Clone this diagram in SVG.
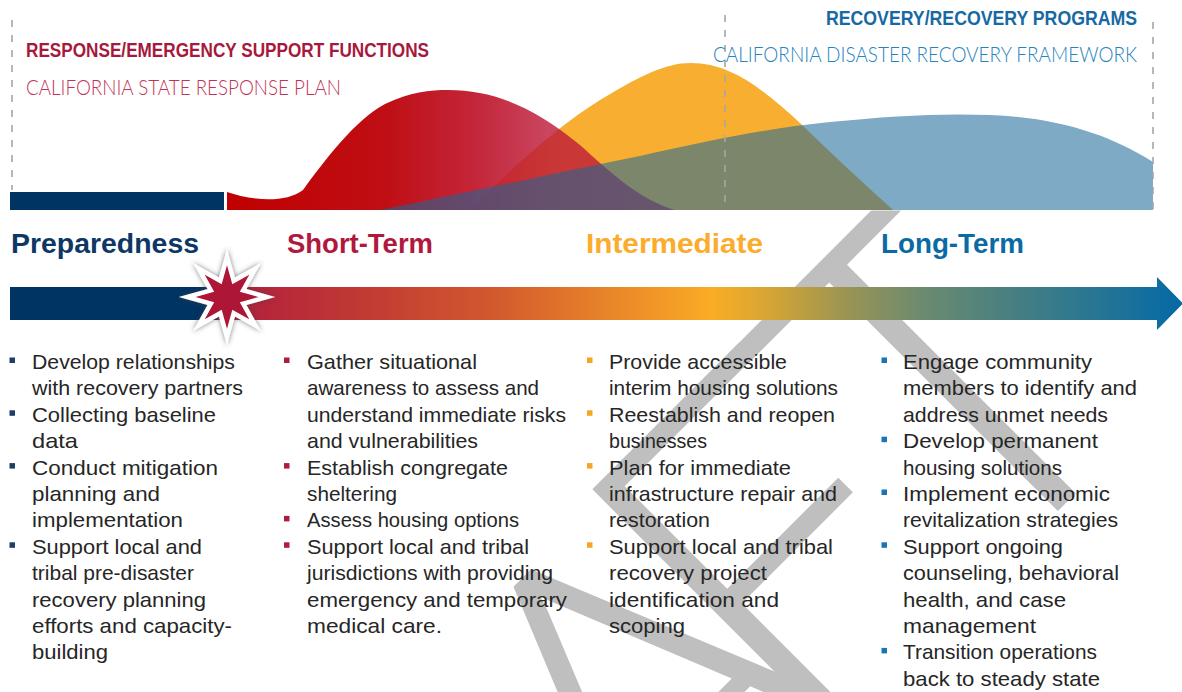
<svg xmlns="http://www.w3.org/2000/svg" width="1182" height="692" viewBox="0 0 1182 692">
<style>
.wm{font-family:Lato,"Open Sans","Noto Sans",sans-serif;font-weight:300;font-size:487px;fill:#bfbfbf}
.hb{font-family:"Liberation Sans",Arial,sans-serif;font-weight:bold;font-size:21px}
.hl{font-family:Lato,"Liberation Sans",sans-serif;font-weight:300;font-size:21px}
.stage{font-family:"Liberation Sans",Arial,sans-serif;font-weight:bold;font-size:28px}
.bt{font-family:"Liberation Sans",Arial,sans-serif;font-size:21px;fill:#262626}
.dash{stroke:#a6a6a6;stroke-width:1.6;stroke-dasharray:7 8;fill:none}
.b1{fill:#1f3d6b}.b2{fill:#b01c40}.b3{fill:#f6a623}.b4{fill:#1b74b5}
</style>
<defs>
<linearGradient id="barG" gradientUnits="userSpaceOnUse" x1="10" y1="0" x2="1182" y2="0">
<stop offset="0" stop-color="#003462"/>
<stop offset="0.175" stop-color="#003462"/>
<stop offset="0.178" stop-color="#b01c3e"/>
<stop offset="0.31" stop-color="#c23c33"/>
<stop offset="0.41" stop-color="#d2582e"/>
<stop offset="0.487" stop-color="#e27a2a"/>
<stop offset="0.537" stop-color="#ee9028"/>
<stop offset="0.60" stop-color="#f9ad24"/>
<stop offset="0.65" stop-color="#d4a436"/>
<stop offset="0.717" stop-color="#979454"/>
<stop offset="0.78" stop-color="#6b8a70"/>
<stop offset="0.847" stop-color="#4b8080"/>
<stop offset="0.913" stop-color="#2d7890"/>
<stop offset="1" stop-color="#0569a6"/>
</linearGradient>
<linearGradient id="redG" gradientUnits="userSpaceOnUse" x1="227" y1="0" x2="675" y2="0">
<stop offset="0" stop-color="#c00000"/>
<stop offset="0.35" stop-color="#bf0e14"/>
<stop offset="0.55" stop-color="#c01a2e" stop-opacity="0.95"/>
<stop offset="0.72" stop-color="#bd1838" stop-opacity="0.8"/>
<stop offset="1" stop-color="#bd1838" stop-opacity="0.75"/>
</linearGradient>
<filter id="glow" x="-30%" y="-30%" width="160%" height="160%">
<feDropShadow dx="0" dy="0" stdDeviation="2.5" flood-color="#404040" flood-opacity="0.7"/>
</filter>
</defs>

<g id="watermark">
<text class="wm" transform="translate(829,740) rotate(-45)" x="-938 -583 -262 -41 195" y="0 0 13 0 0">DRAFT</text>
</g>

<g id="curves">
<rect x="0" y="0" width="1182" height="210.5" fill="#ffffff"/>
<path id="orange-curve" d="M470,210 C520,160 560,125 600,100 C640,76 665,63 691,63 C730,63 762,88 800,123 C830,152 862,182 893,210 Z" fill="#f8ae30"/>
<path id="red-curve" d="M227,192 C250,200 285,204 303,190 C325,160 355,120 385,104 C410,92 430,90 448,90 C495,90 535,108 580,145 C610,172 640,200 675,210 L227,210 Z" fill="url(#redG)"/>
<path id="blue-curve" d="M380,210 C480,190 560,172 640,156 C700,143 760,129 830,122 C890,116 940,113 990,115 C1060,118 1110,135 1153,162 L1153,210 Z" fill="#196799" fill-opacity="0.56"/>
<rect id="prep-bar" x="10" y="192" width="214" height="18" fill="#003462"/>
</g>

<g id="guides">
<line class="dash" x1="12" y1="20" x2="12" y2="190"/>
<line class="dash" x1="725" y1="15" x2="725" y2="208"/>
<line class="dash" x1="1153" y1="22" x2="1153" y2="210"/>
</g>

<g id="headers">
<text class="hb" x="26" y="56.5" fill="#a6193c" textLength="403" lengthAdjust="spacingAndGlyphs">RESPONSE/EMERGENCY SUPPORT FUNCTIONS</text>
<text class="hl" x="26" y="94.5" fill="#bf3358" textLength="315" lengthAdjust="spacingAndGlyphs">CALIFORNIA STATE RESPONSE PLAN</text>
<text class="hb" x="826" y="25" fill="#1669a3" textLength="311" lengthAdjust="spacingAndGlyphs">RECOVERY/RECOVERY PROGRAMS</text>
<text class="hl" x="713" y="62" fill="#2684bd" textLength="424" lengthAdjust="spacingAndGlyphs">CALIFORNIA DISASTER RECOVERY FRAMEWORK</text>
</g>

<g id="stages">
<text class="stage" x="11" y="253" fill="#0d3866" textLength="188" lengthAdjust="spacingAndGlyphs">Preparedness</text>
<text class="stage" x="287" y="253" fill="#b0183e" textLength="146" lengthAdjust="spacingAndGlyphs">Short-Term</text>
<text class="stage" x="586" y="253" fill="#fbac2c" textLength="177" lengthAdjust="spacingAndGlyphs">Intermediate</text>
<text class="stage" x="881" y="253" fill="#0b6aa5" textLength="143" lengthAdjust="spacingAndGlyphs">Long-Term</text>
</g>

<g id="timeline-arrow">
<path d="M10,287 L1157,287 L1157,277 L1183,303.5 L1157,330 L1157,320 L10,320 Z" fill="url(#barG)"/>
</g>

<g id="disaster-star">
<path filter="url(#glow)" d="M227,257 L233.70,280.83 L255.28,268.72 L243.17,290.30 L267,297 L243.17,303.70 L255.28,325.28 L233.70,313.17 L227,337 L220.30,313.17 L198.72,325.28 L210.83,303.70 L187,297 L210.83,290.30 L198.72,268.72 L220.30,280.83 Z" fill="#ae1238" stroke="#ffffff" stroke-width="4.5" stroke-linejoin="miter"/>
</g>

<g id="col-preparedness">
<rect class="b1" x="9.5" y="357.5" width="5.5" height="5.5"/>
<rect class="b1" x="9.5" y="410.3" width="5.5" height="5.5"/>
<rect class="b1" x="9.5" y="463.1" width="5.5" height="5.5"/>
<rect class="b1" x="9.5" y="542.3" width="5.5" height="5.5"/>
<text class="bt" x="32" y="369" textLength="203" lengthAdjust="spacingAndGlyphs">Develop relationships</text>
<text class="bt" x="32" y="395.4" textLength="211" lengthAdjust="spacingAndGlyphs">with recovery partners</text>
<text class="bt" x="32" y="421.8" textLength="184" lengthAdjust="spacingAndGlyphs">Collecting baseline</text>
<text class="bt" x="32" y="448.2" textLength="46" lengthAdjust="spacingAndGlyphs">data</text>
<text class="bt" x="32" y="474.6" textLength="186" lengthAdjust="spacingAndGlyphs">Conduct mitigation</text>
<text class="bt" x="32" y="501" textLength="128" lengthAdjust="spacingAndGlyphs">planning and</text>
<text class="bt" x="32" y="527.4" textLength="151" lengthAdjust="spacingAndGlyphs">implementation</text>
<text class="bt" x="32" y="553.8" textLength="170" lengthAdjust="spacingAndGlyphs">Support local and</text>
<text class="bt" x="32" y="580.2" textLength="162" lengthAdjust="spacingAndGlyphs">tribal pre-disaster</text>
<text class="bt" x="32" y="606.6" textLength="174" lengthAdjust="spacingAndGlyphs">recovery planning</text>
<text class="bt" x="32" y="633" textLength="200" lengthAdjust="spacingAndGlyphs">efforts and capacity-</text>
<text class="bt" x="32" y="659.4" textLength="76" lengthAdjust="spacingAndGlyphs">building</text>
</g>

<g id="col-short-term">
<rect class="b2" x="284" y="357.5" width="5.5" height="5.5"/>
<rect class="b2" x="284" y="463.1" width="5.5" height="5.5"/>
<rect class="b2" x="284" y="515.9" width="5.5" height="5.5"/>
<rect class="b2" x="284" y="542.3" width="5.5" height="5.5"/>
<text class="bt" x="307" y="369" textLength="170" lengthAdjust="spacingAndGlyphs">Gather situational</text>
<text class="bt" x="307" y="395.4" textLength="232" lengthAdjust="spacingAndGlyphs">awareness to assess and</text>
<text class="bt" x="307" y="421.8" textLength="259" lengthAdjust="spacingAndGlyphs">understand immediate risks</text>
<text class="bt" x="307" y="448.2" textLength="171" lengthAdjust="spacingAndGlyphs">and vulnerabilities</text>
<text class="bt" x="307" y="474.6" textLength="201" lengthAdjust="spacingAndGlyphs">Establish congregate</text>
<text class="bt" x="307" y="501" textLength="90" lengthAdjust="spacingAndGlyphs">sheltering</text>
<text class="bt" x="307" y="527.4" textLength="212" lengthAdjust="spacingAndGlyphs">Assess housing options</text>
<text class="bt" x="307" y="553.8" textLength="222" lengthAdjust="spacingAndGlyphs">Support local and tribal</text>
<text class="bt" x="307" y="580.2" textLength="246" lengthAdjust="spacingAndGlyphs">jurisdictions with providing</text>
<text class="bt" x="307" y="606.6" textLength="260" lengthAdjust="spacingAndGlyphs">emergency and temporary</text>
<text class="bt" x="307" y="633" textLength="135" lengthAdjust="spacingAndGlyphs">medical care.</text>
</g>

<g id="col-intermediate">
<rect class="b3" x="587" y="357.5" width="5.5" height="5.5"/>
<rect class="b3" x="587" y="410.3" width="5.5" height="5.5"/>
<rect class="b3" x="587" y="463.1" width="5.5" height="5.5"/>
<rect class="b3" x="587" y="542.3" width="5.5" height="5.5"/>
<text class="bt" x="609" y="369" textLength="178" lengthAdjust="spacingAndGlyphs">Provide accessible</text>
<text class="bt" x="609" y="395.4" textLength="229" lengthAdjust="spacingAndGlyphs">interim housing solutions</text>
<text class="bt" x="609" y="421.8" textLength="226" lengthAdjust="spacingAndGlyphs">Reestablish and reopen</text>
<text class="bt" x="609" y="448.2" textLength="98" lengthAdjust="spacingAndGlyphs">businesses</text>
<text class="bt" x="609" y="474.6" textLength="182" lengthAdjust="spacingAndGlyphs">Plan for immediate</text>
<text class="bt" x="609" y="501" textLength="228" lengthAdjust="spacingAndGlyphs">infrastructure repair and</text>
<text class="bt" x="609" y="527.4" textLength="101" lengthAdjust="spacingAndGlyphs">restoration</text>
<text class="bt" x="609" y="553.8" textLength="224" lengthAdjust="spacingAndGlyphs">Support local and tribal</text>
<text class="bt" x="609" y="580.2" textLength="158" lengthAdjust="spacingAndGlyphs">recovery project</text>
<text class="bt" x="609" y="606.6" textLength="170" lengthAdjust="spacingAndGlyphs">identification and</text>
<text class="bt" x="609" y="633" textLength="76" lengthAdjust="spacingAndGlyphs">scoping</text>
</g>

<g id="col-long-term">
<rect class="b4" x="881.5" y="357.5" width="5.5" height="5.5"/>
<rect class="b4" x="881.5" y="436.7" width="5.5" height="5.5"/>
<rect class="b4" x="881.5" y="489.5" width="5.5" height="5.5"/>
<rect class="b4" x="881.5" y="542.3" width="5.5" height="5.5"/>
<rect class="b4" x="881.5" y="647.9" width="5.5" height="5.5"/>
<text class="bt" x="903" y="369" textLength="189" lengthAdjust="spacingAndGlyphs">Engage community</text>
<text class="bt" x="903" y="395.4" textLength="234" lengthAdjust="spacingAndGlyphs">members to identify and</text>
<text class="bt" x="903" y="421.8" textLength="205" lengthAdjust="spacingAndGlyphs">address unmet needs</text>
<text class="bt" x="903" y="448.2" textLength="195" lengthAdjust="spacingAndGlyphs">Develop permanent</text>
<text class="bt" x="903" y="474.6" textLength="159" lengthAdjust="spacingAndGlyphs">housing solutions</text>
<text class="bt" x="903" y="501" textLength="207" lengthAdjust="spacingAndGlyphs">Implement economic</text>
<text class="bt" x="903" y="527.4" textLength="215" lengthAdjust="spacingAndGlyphs">revitalization strategies</text>
<text class="bt" x="903" y="553.8" textLength="160" lengthAdjust="spacingAndGlyphs">Support ongoing</text>
<text class="bt" x="903" y="580.2" textLength="216" lengthAdjust="spacingAndGlyphs">counseling, behavioral</text>
<text class="bt" x="903" y="606.6" textLength="163" lengthAdjust="spacingAndGlyphs">health, and case</text>
<text class="bt" x="903" y="633" textLength="133" lengthAdjust="spacingAndGlyphs">management</text>
<text class="bt" x="903" y="659.4" textLength="194" lengthAdjust="spacingAndGlyphs">Transition operations</text>
<text class="bt" x="903" y="685.8" textLength="197" lengthAdjust="spacingAndGlyphs">back to steady state</text>
</g>
</svg>
